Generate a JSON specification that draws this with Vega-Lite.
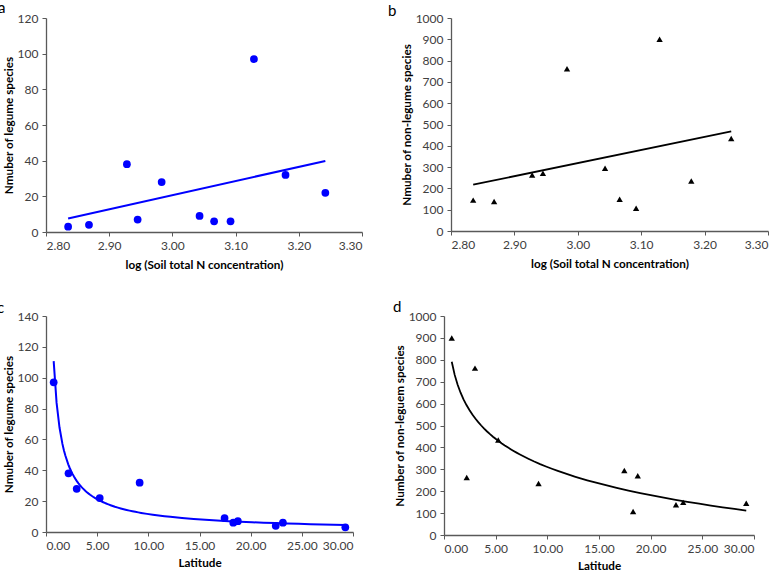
{
  "$schema": "https://vega.github.io/schema/vega-lite/v6.json",
  "padding": {"left": -3, "top": 1, "right": 0, "bottom": 0},
  "data": {"values": [
    {"logN": 3.129, "lat": 0.75, "legume": 97, "nonlegume": 900},
    {"logN": 2.928, "lat": 2.2, "legume": 38, "nonlegume": 263},
    {"logN": 2.983, "lat": 3.0, "legume": 28, "nonlegume": 762},
    {"logN": 3.242, "lat": 5.25, "legume": 22, "nonlegume": 434},
    {"logN": 3.179, "lat": 9.15, "legume": 32, "nonlegume": 235},
    {"logN": 3.043, "lat": 17.45, "legume": 9, "nonlegume": 295},
    {"logN": 3.092, "lat": 18.3, "legume": 6, "nonlegume": 107},
    {"logN": 2.945, "lat": 18.75, "legume": 7, "nonlegume": 271},
    {"logN": 2.868, "lat": 22.45, "legume": 4, "nonlegume": 138},
    {"logN": 3.066, "lat": 23.15, "legume": 6, "nonlegume": 149},
    {"logN": 2.835, "lat": 29.25, "legume": 3, "nonlegume": 145}
  ]},
  "spacing": 29,
  "vconcat": [
    {
      "bounds": "flush",
      "spacing": 89,
      "hconcat": [
        {
          "width": 316, "height": 214,
          "title": {"text": "a", "anchor": "start", "frame": "group", "dx": -48, "fontSize": 15, "fontWeight": "normal", "color": "#000000", "offset": -4},
          "encoding": {
            "x": {"field": "logN", "type": "quantitative", "scale": {"domain": [2.8, 3.3], "nice": false}, "axis": {"values": [2.8, 2.9, 3.0, 3.1, 3.2, 3.3], "format": ".2f", "title": "log (Soil total N concentration)"}},
            "y": {"field": "legume", "type": "quantitative", "scale": {"domain": [0, 120], "nice": false}, "axis": {"values": [0, 20, 40, 60, 80, 100, 120], "format": "d", "title": "Nmuber of legume species", "titlePadding": 3}}
          },
          "layer": [
            {"transform": [{"regression": "legume", "on": "logN", "method": "linear"}], "mark": {"type": "line", "color": "#0000FF", "strokeWidth": 2}},
            {"mark": {"type": "point", "shape": "circle", "filled": true, "color": "#0000FF", "opacity": 1, "size": 60}},
            {"data": {"values": [{}]}, "mark": {"type": "text", "align": "left", "baseline": "middle", "fontSize": 12.5, "color": "#404040"}, "encoding": {"x": {"datum": 2.885}, "y": {"datum": 112}, "text": {"value": "R² = 0.138"}}}
          ]
        },
        {
          "width": 317, "height": 213,
          "title": {"text": "b", "anchor": "start", "frame": "group", "dx": -63, "fontSize": 15, "fontWeight": "normal", "color": "#000000", "offset": -7},
          "encoding": {
            "x": {"field": "logN", "type": "quantitative", "scale": {"domain": [2.8, 3.3], "nice": false}, "axis": {"values": [2.8, 2.9, 3.0, 3.1, 3.2, 3.3], "format": ".2f", "title": "log (Soil total N concentration)"}},
            "y": {"field": "nonlegume", "type": "quantitative", "scale": {"domain": [0, 1000], "nice": false}, "axis": {"values": [0, 100, 200, 300, 400, 500, 600, 700, 800, 900, 1000], "format": "d", "title": "Nmuber of non-legume species", "titlePadding": 3}}
          },
          "layer": [
            {"transform": [{"regression": "nonlegume", "on": "logN", "method": "linear"}], "mark": {"type": "line", "color": "#000000", "strokeWidth": 1.8}},
            {"mark": {"type": "point", "shape": "triangle-up", "filled": true, "color": "#000000", "opacity": 1, "size": 40}},
            {"data": {"values": [{}]}, "mark": {"type": "text", "align": "left", "baseline": "middle", "fontSize": 12.5, "color": "#404040"}, "encoding": {"x": {"datum": 2.876}, "y": {"datum": 958}, "text": {"value": "R² = 0.0915"}}}
          ]
        }
      ]
    },
    {
      "bounds": "flush",
      "spacing": 91,
      "hconcat": [
        {
          "width": 307, "height": 216,
          "title": {"text": "c", "anchor": "start", "frame": "group", "dx": -49, "fontSize": 15, "fontWeight": "normal", "color": "#000000", "offset": -6},
          "encoding": {
            "x": {"field": "lat", "type": "quantitative", "scale": {"domain": [0, 30], "nice": false}, "axis": {"values": [0, 5, 10, 15, 20, 25, 30], "format": ".2f", "title": "Latitude", "titlePadding": 6}},
            "y": {"field": "legume", "type": "quantitative", "scale": {"domain": [0, 140], "nice": false}, "axis": {"values": [0, 20, 40, 60, 80, 100, 120, 140], "format": "d", "title": "Nmuber of legume species", "titlePadding": 3}}
          },
          "layer": [
            {"transform": [{"regression": "legume", "on": "lat", "method": "pow"}], "mark": {"type": "line", "color": "#0000FF", "strokeWidth": 2}},
            {"mark": {"type": "point", "shape": "circle", "filled": true, "color": "#0000FF", "opacity": 1, "size": 60}},
            {"data": {"values": [{}]}, "mark": {"type": "text", "align": "left", "baseline": "middle", "fontSize": 12.5, "color": "#404040"}, "encoding": {"x": {"datum": 4.98}, "y": {"datum": 133}, "text": {"value": "R² = 0.8883"}}}
          ]
        },
        {
          "width": 310, "height": 219,
          "title": {"text": "d", "anchor": "start", "frame": "group", "dx": -51, "fontSize": 15, "fontWeight": "normal", "color": "#000000", "offset": -5},
          "encoding": {
            "x": {"field": "lat", "type": "quantitative", "scale": {"domain": [0, 30], "nice": false}, "axis": {"values": [0, 5, 10, 15, 20, 25, 30], "format": ".2f", "title": "Latitude", "titlePadding": 6}},
            "y": {"field": "nonlegume", "type": "quantitative", "scale": {"domain": [0, 1000], "nice": false}, "axis": {"values": [0, 100, 200, 300, 400, 500, 600, 700, 800, 900, 1000], "format": "d", "title": "Number of non-leguem species", "titlePadding": 3}}
          },
          "layer": [
            {"transform": [{"regression": "nonlegume", "on": "lat", "method": "log"}], "mark": {"type": "line", "color": "#000000", "strokeWidth": 1.8}},
            {"mark": {"type": "point", "shape": "triangle-up", "filled": true, "color": "#000000", "opacity": 1, "size": 40}},
            {"data": {"values": [{}]}, "mark": {"type": "text", "align": "left", "baseline": "middle", "fontSize": 12.5, "color": "#404040"}, "encoding": {"x": {"datum": 5.13}, "y": {"datum": 927}, "text": {"value": "R² = 0.7164"}}}
          ]
        }
      ]
    }
  ],
  "config": {
    "font": "Lato",
    "view": {"stroke": null},
    "axis": {
      "grid": false,
      "domainColor": "#595959",
      "domainWidth": 1.3,
      "tickColor": "#595959",
      "tickSize": 4,
      "labelColor": "#404040",
      "labelFontSize": 12,
      "labelPadding": 4,
      "titleFontSize": 11.7,
      "titleFontWeight": "bold",
      "titleColor": "#000000",
      "titlePadding": 8
    }
  }
}
